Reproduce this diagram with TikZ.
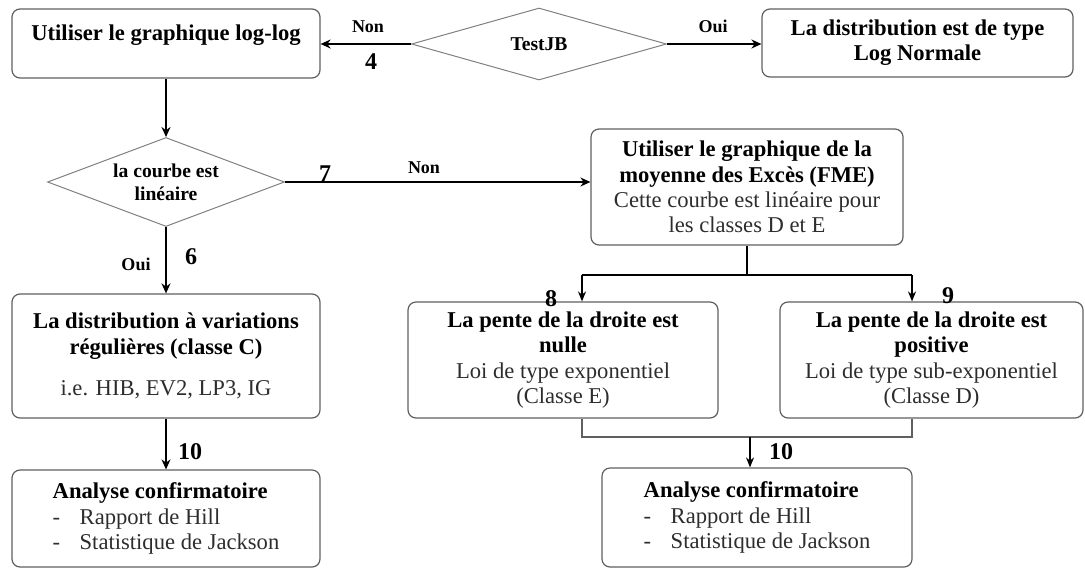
\documentclass[tikz,border=0pt]{standalone}
\usepackage{fontspec}
\setmainfont{Liberation Serif}
\usetikzlibrary{arrows.meta,shapes.geometric,calc}
\definecolor{boxgray}{RGB}{95,95,95}
\definecolor{txtgray}{RGB}{45,45,45}

\begin{document}
\begin{tikzpicture}[x=0.5pt,y=-0.5pt]
	\tikzstyle{every node}=[font=\fontsize{11.3}{12.6}\selectfont]
	\tikzstyle{bloc}=[draw=boxgray, line width=0.6pt, rounded corners=4pt, align=center, inner sep=2pt]
	\tikzstyle{losange}=[draw=gray, line width=0.5pt, diamond, inner sep=0pt, align=center, font=\fontsize{9.8}{11.5}\selectfont\bfseries]
	\tikzstyle{fleche}=[line width=1.4pt, -{Stealth[length=5pt,width=4.5pt]}]
	\tikzstyle{fin}=[line width=0.8pt]
	\tikzstyle{rep}=[font=\fontsize{9}{10}\selectfont\bfseries]
	\tikzstyle{num}=[font=\fontsize{12}{12}\selectfont\bfseries]
	\useasboundingbox (0,0) rectangle (1085,568);
	\node [bloc, minimum width=154pt, minimum height=34.5pt, text depth=11pt] (logbox) at (166,43.5) {\textbf{Utiliser le graphique log-log}};
	\node [losange, aspect=3.5, minimum width=127.5pt, minimum height=36pt] (testjb) at (539,44) {TestJB};
	\node [bloc, minimum width=155.5pt, minimum height=34pt] (lognorm) at (917.5,43) {\textbf{La distribution est de type}\\\textbf{Log Normale}};
	\node [losange, aspect=2.66, minimum width=118.5pt, minimum height=44.5pt] (courbe) at (166,182) {la courbe est\\lin\'eaire};
	\node [bloc, minimum width=156pt, minimum height=58pt] (fme) at (747,187) {\textbf{Utiliser le graphique de la}\\\textbf{moyenne des Exc\`es (FME)}\\{\color{txtgray}Cette courbe est lin\'eaire pour}\\{\color{txtgray}les classes D et E}};
	\node [bloc, minimum width=154pt, minimum height=62pt] (regvar) at (166,356) {\textbf{La distribution \`a variations}\\\textbf{r\'eguli\`eres (classe C)}\\[8pt]{\color{txtgray}i.e. HIB, EV2, LP3, IG}};
	\node [bloc, minimum width=155pt, minimum height=58pt] (nulle) at (563,360) {\textbf{La pente de la droite est}\\\textbf{nulle}\\{\color{txtgray}Loi de type exponentiel}\\{\color{txtgray}(Classe E)}};
	\node [bloc, minimum width=151.5pt, minimum height=58pt] (positive) at (931.5,360) {\textbf{La pente de la droite est}\\\textbf{positive}\\{\color{txtgray}Loi de type sub-exponentiel}\\{\color{txtgray}(Classe D)}};
	\node [bloc, align=left, minimum width=154pt, minimum height=48.5pt] (conf1) at (166,518.5) {\textbf{Analyse confirmatoire}\\{\color{txtgray}\makebox[13.5pt][l]{-}Rapport de Hill}\\{\color{txtgray}\makebox[13.5pt][l]{-}Statistique de Jackson}};
	\node [bloc, align=left, minimum width=155pt, minimum height=49.5pt] (conf2) at (757,517.5) {\textbf{Analyse confirmatoire}\\{\color{txtgray}\makebox[13.5pt][l]{-}Rapport de Hill}\\{\color{txtgray}\makebox[13.5pt][l]{-}Statistique de Jackson}};
	\coordinate (splitL) at (582,275);
	\coordinate (splitR) at (912,275);
	\coordinate (joinL) at (582,437);
	\coordinate (joinR) at (912,437);
	\coordinate (joinM) at (750,437);
	\draw [fleche] (testjb.west) -- (testjb.west -| logbox.east);
	\draw [fleche] (testjb.east) -- (testjb.east -| lognorm.west);
	\draw [fleche] (logbox.south) -- (courbe.north);
	\draw [fleche] (courbe.east) -- (courbe.east -| fme.west);
	\draw [fleche] (courbe.south) -- (regvar.north);
	\draw [fleche] (regvar.south) -- (conf1.north);
	\draw [fin] (fme.south) -- (fme.south |- splitL);
	\draw [fin] (splitL) -- (splitR);
	\draw [fin, -{Stealth[length=5pt,width=4pt]}] (splitL) -- (splitL |- nulle.north);
	\draw [fin, -{Stealth[length=5pt,width=4pt]}] (splitR) -- (splitR |- positive.north);
	\draw [fin, draw=boxgray] (joinL |- nulle.south) -- (joinL) -- (joinR) -- (joinR |- positive.south);
	\draw [fin, -{Stealth[length=5pt,width=4pt]}] (joinM) -- (joinM |- conf2.north);
	\node [rep] (non1) at (368,27) {Non};
	\node [num] (n4) at (371,62) {4};
	\node [rep] (oui1) at (713,26) {Oui};
	\node [num] (n7) at (325,174) {7};
	\node [rep] (non2) at (424,168) {Non};
	\node [rep] (oui2) at (136,264) {Oui};
	\node [num] (n6) at (191,257) {6};
	\node [num] (n8) at (551,299) {8};
	\node [num] (n9) at (948,296) {9};
	\node [num] (n10a) at (190,452) {10};
	\node [num] (n10b) at (781,452) {10};
\end{tikzpicture}
\end{document}
